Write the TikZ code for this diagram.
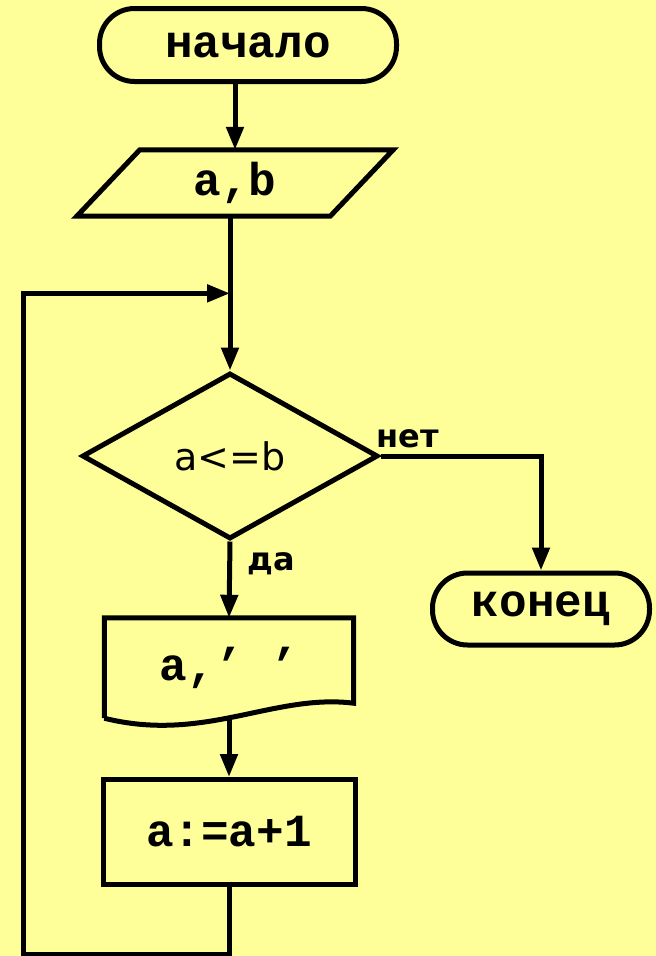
\documentclass[tikz,border=0pt]{standalone}
\usepackage{fontspec}
\setmonofont{Liberation Mono}
\setsansfont{DejaVu Sans}
\usetikzlibrary{shapes.geometric,arrows.meta,calc}
\definecolor{bg}{RGB}{255,255,153}
\newcommand\monotext{\ttfamily\bfseries\fontsize{46}{50}\selectfont}
\newcommand\condtext{\sffamily\fontsize{38}{42}\selectfont}
\newcommand\labtext{\sffamily\bfseries\fontsize{32}{36}\selectfont}
\begin{document}
\begin{tikzpicture}[x=1pt,y=-1pt,
  lw/.style={line width=5pt},
  arr/.style={lw,-{Triangle[length=23pt,width=17pt]}},
  term/.style={draw,lw,rectangle,rounded corners=35pt,inner sep=0pt,font=\monotext},
  boxed/.style={draw,lw,rectangle,inner sep=0pt,font=\monotext},
  plain/.style={inner sep=0pt,font=\monotext},
  cond/.style={draw,lw,diamond,inner sep=0pt,font=\condtext},
  lab/.style={inner sep=0pt,font=\labtext}]
\fill[bg] (0,0) rectangle (656,956);
\useasboundingbox (0,0) rectangle (656,956);

% nodes
\node[term, minimum width=297pt, minimum height=73pt] (start) at (248,45) {начало};
\node[plain, minimum width=253pt, minimum height=66pt] (io) at (235,183) {a,b};
\draw[lw] ($(io.north west)+(31.5,0)$) -- ($(io.north east)+(31.5,0)$)
  -- ($(io.south east)+(-31.5,0)$) -- ($(io.south west)+(-31.5,0)$) -- cycle;
\node[cond, minimum width=296pt, minimum height=166pt, aspect=1.78] (test) at (230,456) {a<=b};
\node[plain, minimum width=249pt, minimum height=100pt] (doc) at (229,668) {a,’ ’};
\draw[lw] (doc.south west) -- (doc.north west) -- (doc.north east)
  -- ($(doc.south east)+(0,-15)$)
  .. controls ($(doc.south east)+(-80,-25)$) and ($(doc.south west)+(100,25)$) .. (doc.south west);
\node[boxed, minimum width=252pt, minimum height=105pt] (proc) at (229,832) {a:=a+1};
\node[term, minimum width=217pt, minimum height=72pt] (fin) at (541,609) {конец};

\node[lab, anchor=base west] (no) at ($(test.east)+(-4,-9)$) {нет};
\node[lab, anchor=base west] (yes) at ($(test.south)+(17,29)$) {да};

\coordinate (join) at ($(io.south -| test.north)!0.5!(test.north)$);

% connectors
\draw[arr] (start.south -| io.north) -- (io.north);
\draw[arr] (io.south -| test.north) -- (test.north);
\draw[arr] (test.east) -| (fin.north);
\draw[arr] (test.south) -- (doc.north);
\draw[arr] (doc.south) -- (proc.north);
\draw[arr] (proc.south) -- ++(0,67) -- ++(-206,0) |- (join);
\end{tikzpicture}
\end{document}
